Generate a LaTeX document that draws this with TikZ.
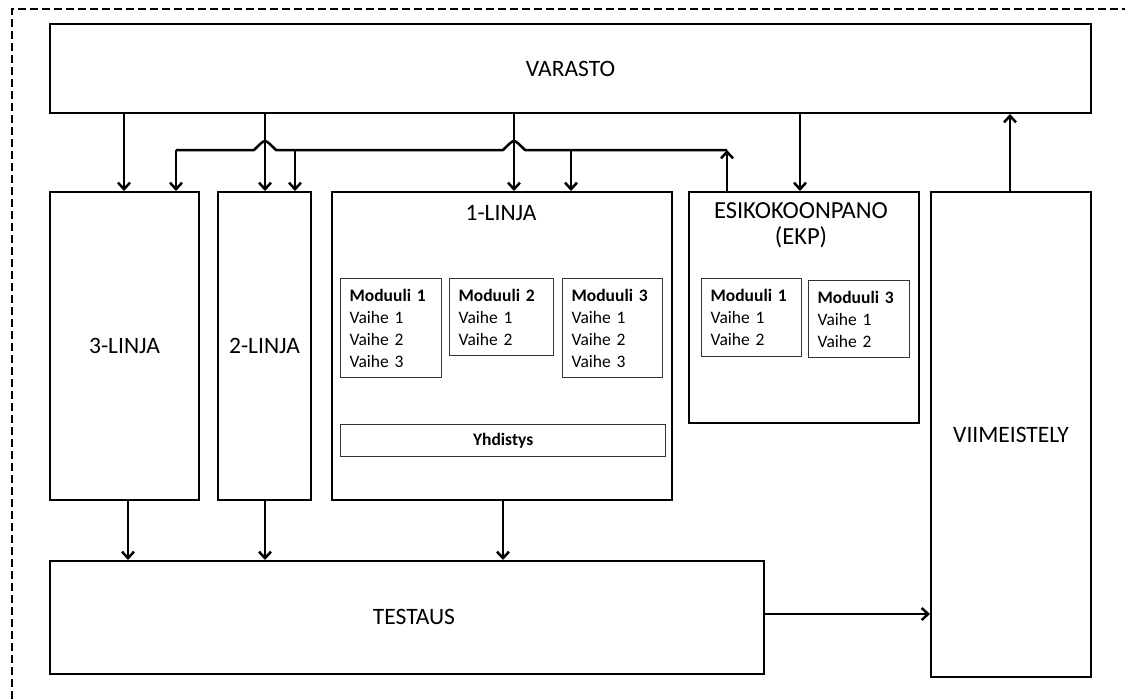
\documentclass[tikz,border=0pt]{standalone}
\usepackage{fontspec}
\setmainfont{Carlito}
\usetikzlibrary{arrows.meta}
\begin{document}
\begin{tikzpicture}[x=1pt,y=-1pt,
  box/.style={draw, line width=2pt, inner sep=0pt, anchor=north west,
    font=\fontsize{23.5}{27}\selectfont},
  modbox/.style={draw=black!80, line width=1.2pt, anchor=north west, inner xsep=9pt,
    inner ysep=0pt, align=left, font=\fontsize{17.5}{22}\selectfont},
  title/.style={font=\fontsize{23.5}{27}\selectfont, inner sep=0pt},
  flow/.style={line width=2.5pt, -{Straight Barb[length=6.5pt,width=12pt,line width=2.5pt]}},
  plain/.style={line width=2.5pt}]
\useasboundingbox (0,0) rectangle (1125,699);

% outer dashed frame (open to the right and bottom)
\draw[line width=1.2pt, dash pattern=on 8pt off 4pt] (12,699) -- (12,9) -- (1125,9);

% main blocks
\node[box, minimum width=1041pt, minimum height=89pt] (varasto) at (49,23) {VARASTO};
\node[box, minimum width=149pt, minimum height=308pt] (l3) at (49,191) {3-LINJA};
\node[box, minimum width=93pt, minimum height=308pt] (l2) at (217,191) {2-LINJA};
\node[box, minimum width=340pt, minimum height=308pt] (l1) at (331,191) {};
\node[box, minimum width=230pt, minimum height=231pt] (ekp) at (688,191) {};
\node[box, minimum width=160pt, minimum height=485pt] (viim) at (930,191) {VIIMEISTELY};
\node[box, minimum width=714pt, minimum height=113pt] (test) at (49,560) {};

\node[title] (l1t) at (501,213) {1-LINJA};
\node[title, align=center, font=\fontsize{24.5}{26}\selectfont] (ekpt) at (801,225) {ESIKOKOONPANO\\(EKP)};
\node[title] (testt) at (414,617) {TESTAUS};

% modules of line 1
\node[modbox, text width=83pt, minimum height=99pt] (m11) at (340,278)
  {\textbf{Moduuli 1}\\Vaihe 1\\Vaihe 2\\Vaihe 3};
\node[modbox, text width=86pt, minimum height=77pt] (m12) at (449,278)
  {\textbf{Moduuli 2}\\Vaihe 1\\Vaihe 2};
\node[modbox, text width=82pt, minimum height=99pt] (m13) at (562,278)
  {\textbf{Moduuli 3}\\Vaihe 1\\Vaihe 2\\Vaihe 3};
\node[modbox, align=center, inner xsep=0pt, minimum width=325pt, minimum height=32pt] (yhd) at (340,424)
  {\textbf{Yhdistys}};

% modules of pre-assembly
\node[modbox, text width=82pt, minimum height=78pt] (e1) at (701,278)
  {\textbf{Moduuli 1}\\Vaihe 1\\Vaihe 2};
\node[modbox, text width=83pt, minimum height=77pt] (e3) at (808,280)
  {\textbf{Moduuli 3}\\Vaihe 1\\Vaihe 2};

% junction points of the return line
\coordinate (rtop) at (727,150);
\coordinate (r2) at (295,150);
\coordinate (r1) at (571,150);
\coordinate (r3) at (176,150);

% supply from the store
\draw[flow] (varasto.south -| 124,0) -- (l3.north -| 124,0);
\draw[flow] (varasto.south -| 265,0) -- (l2.north -| 265,0);
\draw[flow] (varasto.south -| 514,0) -- (l1.north -| 514,0);
\draw[flow] (varasto.south -| 800,0) -- (ekp.north -| 800,0);

% pre-assembled modules returned to the lines
\draw[flow] (ekp.north -| rtop) -- (rtop);
\draw[plain, line join=round] (rtop) -- (525,150)
  .. controls (519,144) and (516,141) .. (514,141)
  .. controls (512,141) and (509,144) .. (503,150)
  -- (276,150)
  .. controls (270,144) and (267,141) .. (265,141)
  .. controls (263,141) and (260,144) .. (254,150)
  -- (r3);
\draw[flow] (r3) -- (l3.north -| r3);
\draw[flow] (r2) -- (l2.north -| r2);
\draw[flow] (r1) -- (l1.north -| r1);

% lines to testing
\draw[flow] (l3.south -| 128,0) -- (test.north -| 128,0);
\draw[flow] (l2.south -| 265,0) -- (test.north -| 265,0);
\draw[flow] (l1.south -| 503,0) -- (test.north -| 503,0);

% testing to finishing, finishing back to the store
\draw[flow] (test.east |- 0,614) -- (viim.west |- 0,614);
\draw[flow] (viim.north -| 1010,0) -- (varasto.south -| 1010,0);
\end{tikzpicture}
\end{document}
